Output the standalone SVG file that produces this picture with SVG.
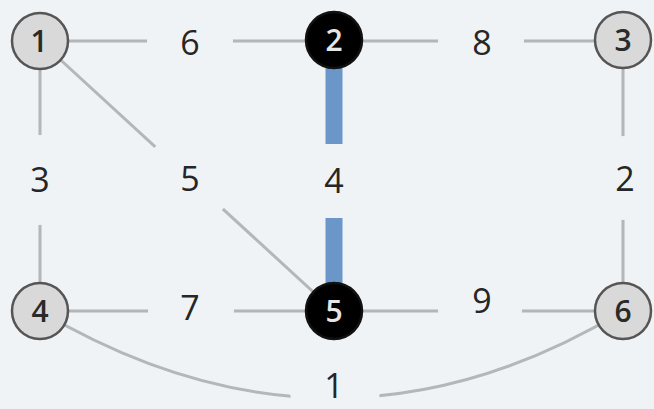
<svg xmlns="http://www.w3.org/2000/svg" width="654" height="409" viewBox="0 0 654 409">
<style>
.e{stroke:#b4b6b8;stroke-width:3;fill:none}
.hl{stroke:#6b96c9;stroke-width:17;fill:none}
.lbl{font-family:"Open Sans","Liberation Sans",sans-serif;font-size:34px;fill:#262626;text-anchor:middle;dominant-baseline:central}
.n{fill:#d9d9d9;stroke:#555;stroke-width:2.5}
.nb{fill:#000;stroke:#111;stroke-width:2.5}
.nt{font-family:"Open Sans","Liberation Sans",sans-serif;font-size:30px;font-weight:600;fill:#2a2a2a;text-anchor:middle;dominant-baseline:central}
.ntb{fill:#e6e6e6}
</style>
<defs>
<mask id="gaps" maskUnits="userSpaceOnUse" x="0" y="0" width="654" height="409">
<rect x="0" y="0" width="654" height="409" fill="#fff"/>
<circle cx="190" cy="41" r="43" fill="#000"/>
<circle cx="481" cy="41" r="43" fill="#000"/>
<circle cx="40" cy="180" r="45" fill="#000"/>
<circle cx="189" cy="178" r="46" fill="#000"/>
<rect x="318" y="144" width="32" height="74" fill="#000"/>
<circle cx="623" cy="178" r="42" fill="#000"/>
<circle cx="191" cy="311" r="43" fill="#000"/>
<circle cx="480" cy="311" r="42" fill="#000"/>
<circle cx="335" cy="390" r="45" fill="#000"/>
</mask>
</defs>
<rect width="654" height="409" fill="#eff3f5"/>
<g id="connectors" mask="url(#gaps)">
<line class="e" x1="40" y1="41" x2="334" y2="41"/>
<line class="e" x1="334" y1="41" x2="623" y2="41"/>
<line class="e" x1="40" y1="41" x2="40" y2="311"/>
<line class="e" x1="40" y1="41" x2="334" y2="311"/>
<line class="hl" x1="334" y1="41" x2="334" y2="311"/>
<line class="e" x1="623" y1="41" x2="623" y2="311"/>
<line class="e" x1="40" y1="311" x2="334" y2="311"/>
<line class="e" x1="334" y1="311" x2="623" y2="311"/>
<path class="e" d="M40,311 Q334,485 623,311"/>
</g>
<g id="edge-labels">
<text class="lbl" x="190" y="42">6</text>
<text class="lbl" x="482" y="42">8</text>
<text class="lbl" x="40" y="179">3</text>
<text class="lbl" x="190" y="178">5</text>
<text class="lbl" x="334" y="180">4</text>
<text class="lbl" x="625" y="178">2</text>
<text class="lbl" x="190" y="307">7</text>
<text class="lbl" x="482" y="300">9</text>
<text class="lbl" x="334" y="385">1</text>
</g>
<g id="node1"><circle class="n" cx="40" cy="41" r="28"/><text class="nt" x="39" y="40">1</text></g>
<g id="node2"><circle class="nb" cx="334" cy="40" r="28"/><text class="nt ntb" x="334" y="39">2</text></g>
<g id="node3"><circle class="n" cx="623" cy="40" r="28"/><text class="nt" x="623" y="39">3</text></g>
<g id="node4"><circle class="n" cx="40" cy="311" r="28"/><text class="nt" x="40" y="310">4</text></g>
<g id="node5"><circle class="nb" cx="334" cy="311" r="28"/><text class="nt ntb" x="334" y="310">5</text></g>
<g id="node6"><circle class="n" cx="623" cy="311" r="28"/><text class="nt" x="623" y="310">6</text></g>
</svg>
